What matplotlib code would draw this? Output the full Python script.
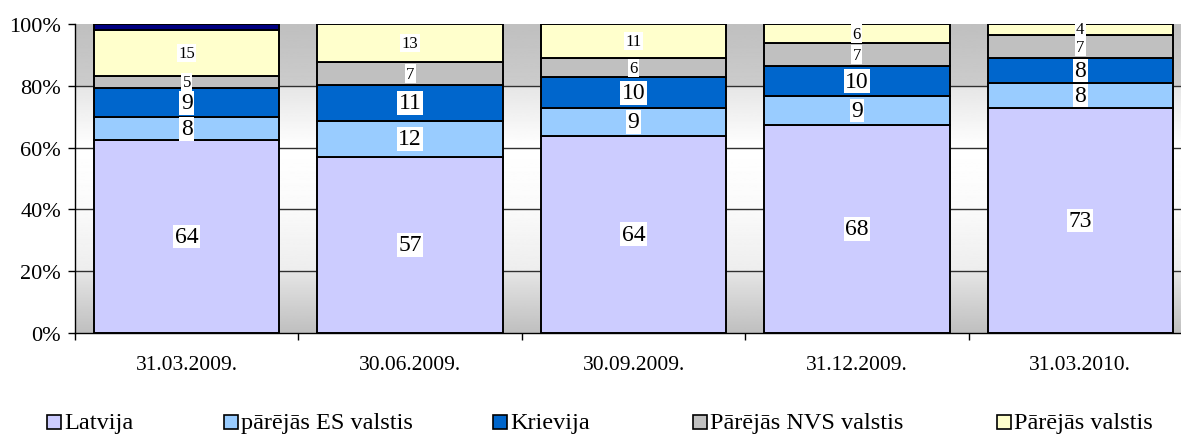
import matplotlib
matplotlib.use("Agg")
import matplotlib.pyplot as plt
import numpy as np
from matplotlib.patches import Rectangle

plt.rcParams["font.family"] = ["Liberation Serif", "DejaVu Serif"]

categories = ["31.03.2009.", "30.06.2009.", "30.09.2009.", "31.12.2009.", "31.03.2010."]
series_names = ["Latvija", "pārējās ES valstis", "Krievija", "Pārējās NVS valstis", "Pārējās valstis"]

# segment heights as drawn (percent of total)
latvija = [62.5, 57.1, 63.9, 67.4, 72.8]
es = [7.3, 11.6, 8.9, 9.2, 8.1]
krievija = [9.5, 11.6, 9.9, 9.7, 8.1]
nvs = [3.9, 7.3, 6.2, 7.5, 7.4]
other = [14.9, 12.4, 11.1, 6.2, 3.7]
unlisted = [1.9, 0.0, 0.0, 0.0, 0.0]

# data labels as printed on the chart
latvija_lbl = ["64", "57", "64", "68", "73"]
es_lbl = ["8", "12", "9", "9", "8"]
krievija_lbl = ["9", "11", "10", "10", "8"]
nvs_lbl = ["5", "7", "6", "7", "7"]
other_lbl = ["15", "13", "11", "6", "4"]

colors = ["#CCCCFF", "#99CCFF", "#0066CC", "#C0C0C0", "#FFFFCC"]
label_sizes = [17, 17, 17, 12, 12]

W, H = 1181, 435
fig = plt.figure(figsize=(W / 100, H / 100), dpi=100)
ax = fig.add_axes([75 / W, 101 / H, 1117 / W, 309 / H])

# background gradient of the plot area
yy = np.linspace(0, 100, 400)
gray = np.interp(yy, [0, 20, 20.01, 40, 60, 80, 80.01, 100],
                 [0.75, 0.9, 0.93, 0.98, 1.0, 0.9, 0.8, 0.75])
img = np.repeat(gray[:, None], 2, axis=1)
ax.imshow(img, cmap="gray", vmin=0, vmax=1, origin="lower", aspect="auto",
          extent=[-0.5, 4.5, 0, 100], zorder=0)

for y in [20, 40, 60, 80]:
    ax.axhline(y, color="#303030", linewidth=1.0, zorder=1)

x = np.arange(len(categories))
bottom = np.zeros(len(categories))
values = [latvija, es, krievija, nvs, other]
labels = [latvija_lbl, es_lbl, krievija_lbl, nvs_lbl, other_lbl]
for vals, col, lbls, fs in zip(values, colors, labels, label_sizes):
    vals = np.array(vals)
    ax.bar(x, vals, bottom=bottom, width=0.83, color=col, edgecolor="black",
           linewidth=1.4, zorder=3)
    for xi, b, v, t in zip(x, bottom, vals, lbls):
        ax.text(xi, b + v / 2, t, ha="center", va="center", fontsize=fs, zorder=5,
                bbox=dict(facecolor="white", edgecolor="none", pad=1.0))
    bottom = bottom + vals
unl = np.array(unlisted)
ax.bar(x[unl > 0], unl[unl > 0], bottom=bottom[unl > 0], width=0.83,
       color="#000080", edgecolor="black", linewidth=1.4, zorder=3)

ax.set_xlim(-0.5, 4.5)
ax.set_ylim(0, 100)
ax.set_yticks([0, 20, 40, 60, 80, 100])
ax.set_yticklabels(["0%", "20%", "40%", "60%", "80%", "100%"], fontsize=16)
ax.set_xticks(x)
ax.set_xticklabels(categories, fontsize=15.5)
ax.set_xticks(np.arange(-0.5, 5.0, 1.0), minor=True)
ax.tick_params(axis="x", which="major", length=0, pad=16)
ax.tick_params(axis="x", which="minor", length=5, width=1, direction="out")
ax.tick_params(axis="y", length=5, width=1, direction="out", pad=5)
for s in ["top", "right"]:
    ax.spines[s].set_visible(False)
for s in ["left", "bottom"]:
    ax.spines[s].set_linewidth(1.0)

# legend, laid out like the original (pixel positions from the top-left)
leg_x = [47, 224, 493, 693, 997]
box = 14
for lx, name, col in zip(leg_x, series_names, colors):
    fig.patches.append(Rectangle((lx / W, 1 - 430 / H), box / W, box / H,
                                 transform=fig.transFigure, facecolor=col,
                                 edgecolor="black", linewidth=1.2))
    fig.text((lx + box + 3) / W, 1 - 429 / H, name, fontsize=17.5,
             ha="left", va="baseline")

fig.savefig("out.png", dpi=100)
